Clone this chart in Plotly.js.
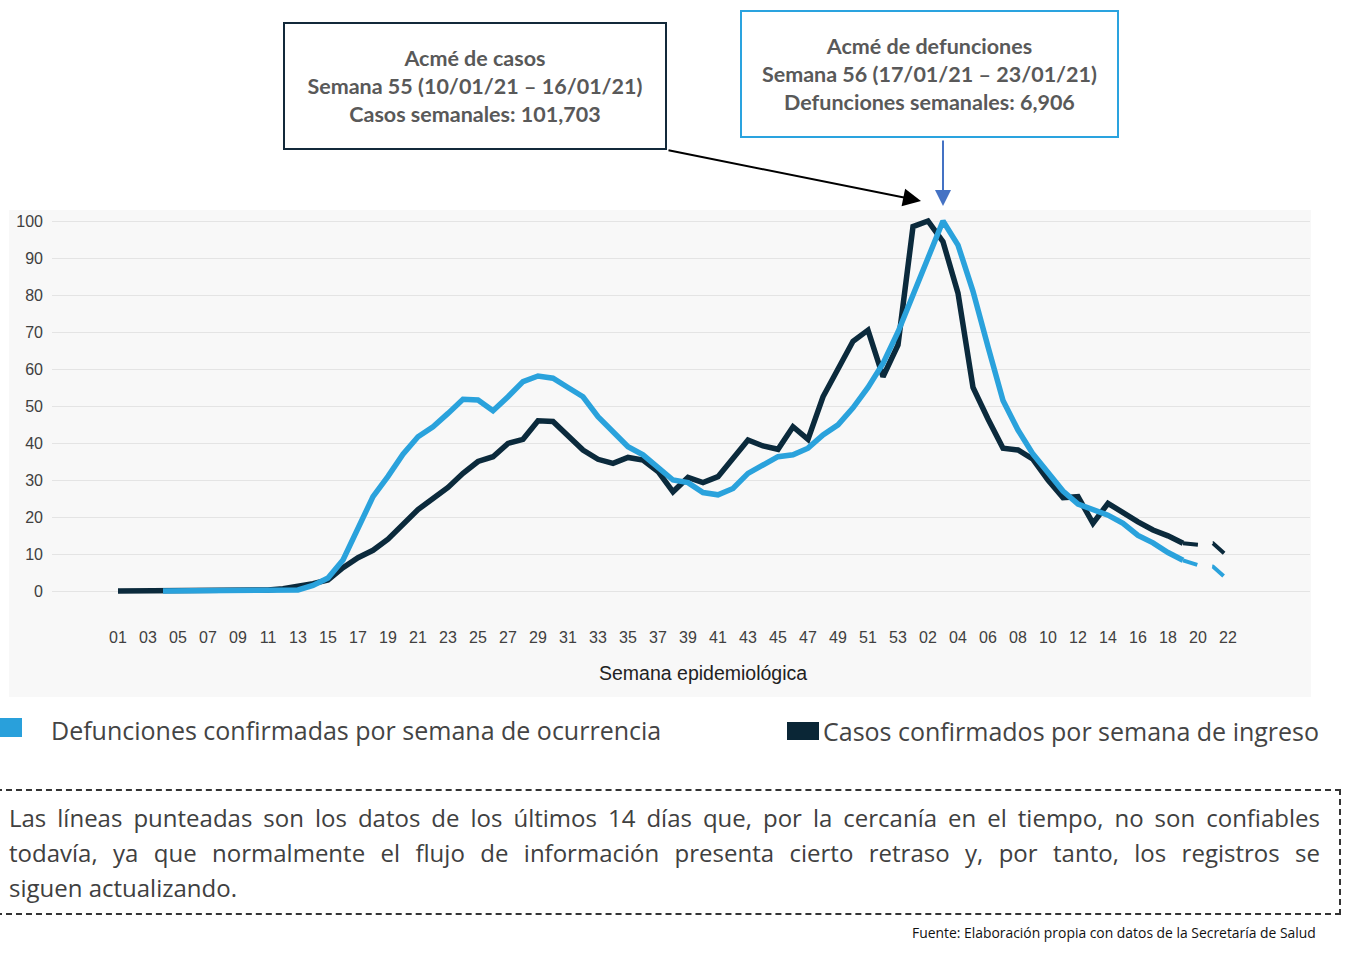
<!DOCTYPE html>
<html>
<head>
<meta charset="utf-8">
<script src="https://cdn.plot.ly/plotly-3.0.1.min.js"></script>
<style>
  html, body { margin: 0; padding: 0; background: #ffffff; }
  #wrap { position: relative; width: 1347px; height: 972px; overflow: hidden; }
  #chart { position: absolute; left: 0; top: 0; width: 1347px; height: 972px; }
  #note {
    position: absolute; left: -4px; top: 789px; width: 1345px; height: 126px;
    border-top: 2px dashed #333; border-right: 2px dashed #333; border-bottom: 2px dashed #333;
    box-sizing: border-box;
  }
  #notetext {
    position: absolute; left: 9px; top: 800px; width: 1311px;
    font-family: 'Open Sans', Lato, sans-serif; font-size: 23px; line-height: 35px; color: #404040;
  }
  #notetext .j { text-align: justify; text-align-last: justify; white-space: nowrap; }
</style>
</head>
<body>
<div id="wrap">
  <div id="chart"></div>
  <div id="note"></div>
  <div id="notetext">
    <div class="j">Las líneas punteadas son los datos de los últimos 14 días que, por la cercanía en el tiempo, no son confiables</div>
    <div class="j">todavía, ya que normalmente el flujo de información presenta cierto retraso y, por tanto, los registros se</div>
    <div>siguen actualizando.</div>
  </div>
</div>
<script>
// ---- data ----
const weekLabels = [
  "01","02","03","04","05","06","07","08","09","10","11","12","13","14","15","16","17","18","19","20",
  "21","22","23","24","25","26","27","28","29","30","31","32","33","34","35","36","37","38","39","40",
  "41","42","43","44","45","46","47","48","49","50","51","52","53",
  "01","02","03","04","05","06","07","08","09","10","11","12","13","14","15","16","17","18","19","20","21","22"
];
// Casos confirmados por semana de ingreso (% del máximo)
const casos = [
  0,0,0,0,0,0,0,0,0,0.1,
  0.3,0.6,1.2,2,3,6.3,9,11,14,18,
  22,25,28,31.8,35,36.3,39.9,41,46,45.8,
  41.7,38.1,35.6,34.5,36.1,35.4,32.3,26.8,30.7,29.3,
  30.9,35.9,40.8,39.2,38.3,44.4,41,52.5,59.7,67.5,
  70.5,57.9,66.5,
  98.5,100,94.4,80.5,55,46.5,38.6,38.1,35.6,30,
  25.2,25.5,18.3,23.7,21,18.7,16.5,14.9,12.9,12.5,
  12.9,9.3
];
// Defunciones confirmadas por semana de ocurrencia (% del máximo)
const defunciones = [
  null,null,null,0,0,0,0,0,0,0,
  0,0,0.3,1.5,3.5,8.4,17,25.5,31,37,
  41.7,44.4,48,51.8,51.6,48.7,52.5,56.6,58.1,57.5,
  55,52.5,47.1,43,39,36.8,33.6,30,29.3,26.6,
  26,27.7,31.8,34,36.3,36.8,38.6,42.2,44.9,49.5,
  55,61.5,70,
  80,90,100,93.5,81,66,51.5,43.5,37,32,
  27,23.5,22,20.5,18.3,15,13,10.4,8.3,7,
  6.6,3
];
const yTicks = [0,10,20,30,40,50,60,70,80,90,100];
const solidEnd = 71; // last solid point (2021 semana 19); after it the lines are dotted

// ---- fit the justified note lines so they never wrap ----
(function fitNote() {
  const box = document.getElementById('notetext');
  const lines = box.querySelectorAll('.j');
  const c = document.createElement('canvas').getContext('2d');
  let size = 24;
  const maxW = 1300;
  while (size > 16) {
    c.font = size + "px 'Open Sans'";
    let ok = true;
    lines.forEach(l => { if (c.measureText(l.textContent).width > maxW) ok = false; });
    if (ok) break;
    size -= 0.25;
  }
  box.style.fontSize = size + 'px';
  lines.forEach(l => { l.style.whiteSpace = 'normal'; });
})();

// ---- layout helpers (pixel -> paper) ----
const W = 1347, H = 972;
const PL = 52, PR = 1310, PT = 213, PB = 600;
const P = px => (px - PL) / (PR - PL);
const Q = py => (PB - py) / (PB - PT);

const idx = weekLabels.map((_, i) => i);
const tickIdx = idx.filter(i => i % 2 === 0);
const tickTxt = tickIdx.map(i => weekLabels[i]);

const dark = '#0b2a3c', blue = '#2aa2dc';

const traces = [
  {x: idx.slice(0, solidEnd + 1), y: casos.slice(0, solidEnd + 1), mode: 'lines',
   line: {color: dark, width: 5.5}, hoverinfo: 'skip', showlegend: false},
  {x: idx.slice(solidEnd), y: casos.slice(solidEnd), mode: 'lines',
   line: {color: dark, width: 4, dash: '15px,15px'}, hoverinfo: 'skip', showlegend: false},
  {x: idx.slice(0, solidEnd + 1), y: defunciones.slice(0, solidEnd + 1), mode: 'lines',
   line: {color: blue, width: 5.5}, hoverinfo: 'skip', showlegend: false},
  {x: idx.slice(solidEnd), y: defunciones.slice(solidEnd), mode: 'lines',
   line: {color: blue, width: 4, dash: '15px,15px'}, hoverinfo: 'skip', showlegend: false}
];

// x: index 0 at px 118, 15 px per week
const x0 = (PL - 118) / 15, x1 = (PR - 118) / 15;
// y: 0 at px 591, 100 at px 221
const yPer = (591 - 221) / 100;
const y0 = (591 - PB) / yPer, y1 = (591 - PT) / yPer;

const boxFont = {family: 'Lato, sans-serif', size: 21.5, color: '#595959', weight: 'bold'};
const sans = 'Liberation Sans, Arial, sans-serif';

const layout = {
  width: W, height: H,
  margin: {l: PL, r: W - PR, t: PT, b: H - PB, pad: 0},
  paper_bgcolor: '#ffffff',
  plot_bgcolor: 'rgba(0,0,0,0)',
  xaxis: {
    range: [x0, x1], showgrid: false, zeroline: false, showline: false,
    tickmode: 'array', tickvals: tickIdx, ticktext: tickTxt, ticks: '',
    ticklabelstandoff: 26,
    tickfont: {family: sans, size: 16, color: '#404040'},
    automargin: false, fixedrange: true
  },
  yaxis: {
    range: [y0, y1], tickmode: 'array', tickvals: yTicks, ticks: '',
    showgrid: true, gridcolor: '#e4e4e4', gridwidth: 1, zeroline: false, showline: false,
    ticklabelstandoff: 8,
    tickfont: {family: sans, size: 16, color: '#404040'},
    automargin: false, fixedrange: true
  },
  shapes: [
    {type: 'rect', xref: 'paper', yref: 'paper', layer: 'below',
     x0: P(9), x1: P(1311), y0: Q(697), y1: Q(210), fillcolor: '#f8f8f8', line: {width: 0}},
    {type: 'rect', xref: 'paper', yref: 'paper',
     x0: P(0), x1: P(22), y0: Q(737), y1: Q(718), fillcolor: '#29a0db', line: {width: 0}},
    {type: 'rect', xref: 'paper', yref: 'paper',
     x0: P(787), x1: P(819), y0: Q(740), y1: Q(722), fillcolor: '#0a2636', line: {width: 0}}
  ],
  annotations: [
    {xref: 'paper', yref: 'paper', x: P(703), y: Q(673), xanchor: 'center', yanchor: 'middle',
     text: 'Semana epidemiológica', showarrow: false,
     font: {family: sans, size: 19.5, color: '#222222'}},
    {xref: 'paper', yref: 'paper', x: P(475), y: Q(86), xanchor: 'center', yanchor: 'middle',
     text: 'Acmé de casos<br>Semana 55 (10/01/21 – 16/01/21)<br>Casos semanales: 101,703',
     showarrow: false, align: 'center', width: 380, height: 124, borderpad: 0,
     bordercolor: '#13293a', borderwidth: 2, bgcolor: '#ffffff', font: boxFont},
    {xref: 'paper', yref: 'paper', x: P(929.5), y: Q(74), xanchor: 'center', yanchor: 'middle',
     text: 'Acmé de defunciones<br>Semana 56 (17/01/21 – 23/01/21)<br>Defunciones semanales: 6,906',
     showarrow: false, align: 'center', width: 375, height: 124, borderpad: 0,
     bordercolor: '#2aa3df', borderwidth: 2, bgcolor: '#ffffff', font: boxFont},
    {xref: 'paper', yref: 'paper', x: P(921), y: Q(201), text: '',
     showarrow: true, ax: 667 - 921, ay: 150 - 201, arrowhead: 2, arrowsize: 1.8, arrowwidth: 2,
     arrowcolor: '#000000', standoff: 0},
    {xref: 'paper', yref: 'paper', x: P(943), y: Q(206), text: '',
     showarrow: true, ax: 0, ay: 139 - 206, arrowhead: 2, arrowsize: 1.6, arrowwidth: 2,
     arrowcolor: '#4472c4', standoff: 0},
    {xref: 'paper', yref: 'paper', x: P(49), y: Q(730), xanchor: 'left', yanchor: 'middle',
     text: 'Defunciones confirmadas por semana de ocurrencia', showarrow: false,
     font: {family: 'Open Sans, sans-serif', size: 25, color: '#444444'}},
    {xref: 'paper', yref: 'paper', x: P(821), y: Q(731), xanchor: 'left', yanchor: 'middle',
     text: 'Casos confirmados por semana de ingreso', showarrow: false,
     font: {family: 'Open Sans, sans-serif', size: 25, color: '#444444'}},
    {xref: 'paper', yref: 'paper', x: P(1318), y: Q(932), xanchor: 'right', yanchor: 'middle',
     text: 'Fuente: Elaboración propia con datos de la Secretaría de Salud', showarrow: false,
     font: {family: 'Open Sans, sans-serif', size: 13.9, color: '#111111'}}
  ]
};

Plotly.newPlot('chart', traces, layout, {displayModeBar: false, staticPlot: true});
</script>
</body>
</html>
